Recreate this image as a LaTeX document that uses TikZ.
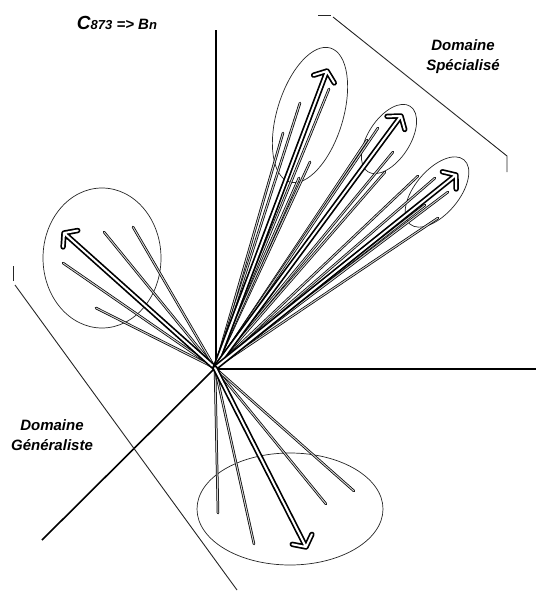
\documentclass[tikz,border=0pt]{standalone}
\usepackage{fontspec}
\setmainfont{Liberation Sans}
\usepackage{tikz}
\usetikzlibrary{calc}

\begin{document}
\begin{tikzpicture}[
    x=1pt, y=-1pt,
    axis/.style={draw=black, line width=1.6pt},
    vec/.style={draw=white, line width=2pt, line cap=round, line join=round,
        preaction={draw=black, line width=5.4pt, line cap=round, line join=round}},
    trace/.style={draw=black, line width=0.75pt, double=black!18, double distance=1pt, line cap=round},
    zone/.style={draw=black!85, line width=0.7pt},
    zoneline/.style={draw=black!85, line width=0.9pt},
    lbl/.style={font=\bfseries\itshape\fontsize{15}{20}\selectfont, align=center, inner sep=0pt}
]
    \useasboundingbox (0,0) rectangle (536,592);

    % Repere
    \coordinate (o) at (215,368);
    \coordinate (ytop) at (216,30);
    \coordinate (xend) at (536,369);
    \coordinate (zend) at (42,540);

    % Groupes
    \draw[zone] (102,258) ellipse [x radius=59pt, y radius=70pt];
    \draw[zone] (290,509) ellipse [x radius=93pt, y radius=56pt];
    \draw[zone] (310,115) ellipse [x radius=70pt, y radius=33pt, rotate=73];
    \draw[zone] (389,139) ellipse [x radius=39pt, y radius=21pt, rotate=57];
    \draw[zone] (437,192) ellipse [x radius=42pt, y radius=22pt, rotate=50];

    \draw[axis] (216,368) -- (ytop);
    \draw[axis] (216,369) -- (xend);
    \draw[axis] (o) -- (zend);

    % Domaines
    \draw[zoneline] (318,15) -- (331,15);
    \draw[zoneline] (333,17) -- (507,156) -- (507,172);
    \draw[zoneline] (13,266) -- (13,281);
    \draw[zoneline] (15,285) -- (237,590);

    % Vecteurs secondaires
    \foreach \x/\y in {104/232, 133/227, 63/263, 96/308,
                       218/513, 254/544, 326/504, 354/491,
                       283/133, 300/103, 329/89, 310/162, 299/178,
                       367/140, 378/128, 393/152, 385/172,
                       418/176, 435/178, 438/218, 425/205, 448/192}
        \draw[trace] (o) -- (\x,\y);

    % Vecteurs principaux
    \coordinate (tL) at (64,233);
    \coordinate (tT) at (327,71);
    \coordinate (tM) at (401,116);
    \coordinate (tR) at (456,175);
    \coordinate (tB) at (306,547);
    \foreach \t in {tL, tT, tM, tR, tB}
        \draw[vec] (o) -- (\t) -- ($(\t)!14pt!52:(o)$) (\t) -- ($(\t)!14pt!-52:(o)$);

    % Textes
    \node[lbl] (titre) at (117,23) {{\fontsize{19}{20}\selectfont C}{\fontsize{13}{15}\selectfont 873} => B{\fontsize{13}{15}\selectfont n}};
    \node[lbl] (spec) at (463,57) {Domaine\\Spécialisé};
    \node[lbl] (gen) at (52,435) {Domaine\\Généraliste};
\end{tikzpicture}
\end{document}
